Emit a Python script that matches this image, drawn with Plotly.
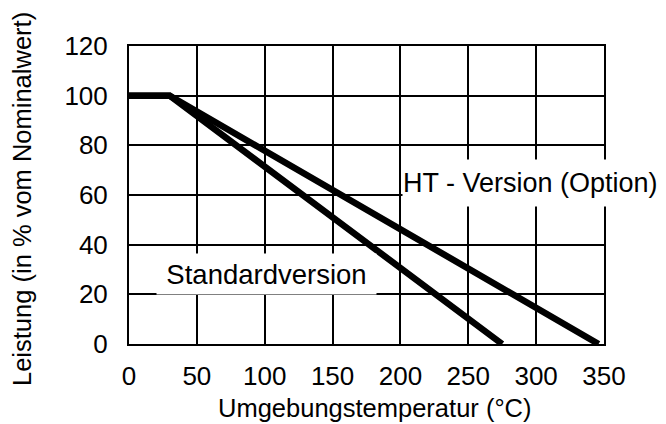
import plotly.graph_objects as go

# Data
std_x = [0, 30, 275]
std_y = [100, 100, 0]
ht_x = [0, 30, 346]
ht_y = [100, 100, 0]

x_ticks = [0, 50, 100, 150, 200, 250, 300, 350]
y_ticks = [0, 20, 40, 60, 80, 100, 120]

x_title = "Umgebungstemperatur (°C)"
y_title = "Leistung (in % vom Nominalwert)"

FONT = "Liberation Sans, Arial, sans-serif"

fig = go.Figure()
fig.add_trace(go.Scatter(x=std_x, y=std_y, mode="lines",
                         line=dict(color="black", width=6.5), name="Standardversion"))
fig.add_trace(go.Scatter(x=ht_x, y=ht_y, mode="lines",
                         line=dict(color="black", width=6.5), name="HT - Version (Option)"))

fig.add_annotation(x=201.5, y=65, xref="x", yref="y", text="HT - Version (Option)",
                   showarrow=False, xanchor="left", yanchor="middle", align="left",
                   bgcolor="white", width=264, height=46, borderpad=0,
                   font=dict(family=FONT, size=27, color="black"))
fig.add_annotation(x=101, y=28, xref="x", yref="y", text="Standardversion",
                   showarrow=False, xanchor="center", yanchor="middle",
                   bgcolor="white", width=219, height=40, borderpad=0,
                   font=dict(family=FONT, size=27.5, color="black"))

# axis titles
fig.add_annotation(x=0.5, y=0, xref="paper", yref="paper", text=x_title,
                   showarrow=False, xanchor="center", yanchor="top",
                   xshift=8, yshift=-48,
                   font=dict(family=FONT, size=25.5, color="black"))
fig.add_annotation(x=0, y=0.5, xref="paper", yref="paper", text=y_title,
                   showarrow=False, xanchor="center", yanchor="middle", textangle=-90,
                   xshift=-107, yshift=-4,
                   font=dict(family=FONT, size=25.5, color="black"))

axis_common = dict(showgrid=True, gridcolor="black", gridwidth=1.5,
                   showline=True, linecolor="black", linewidth=2, mirror=True,
                   zeroline=False, ticks="", automargin=False,
                   tickfont=dict(family=FONT, size=26, color="black"))

fig.update_xaxes(range=[0, 350], tickvals=x_ticks, ticktext=[str(v) for v in x_ticks],
                 ticklabelstandoff=8, **axis_common)
fig.update_yaxes(range=[0, 120], tickvals=y_ticks, ticktext=[str(v) for v in y_ticks],
                 ticklabelstandoff=14, **axis_common)

# page body adds an 8px offset, so the figure is sized to fit the window
fig.update_layout(width=658, height=416, showlegend=False,
                  margin=dict(l=121, r=62, t=38, b=80),
                  plot_bgcolor="white", paper_bgcolor="white")

fig.write_html("out.html")
